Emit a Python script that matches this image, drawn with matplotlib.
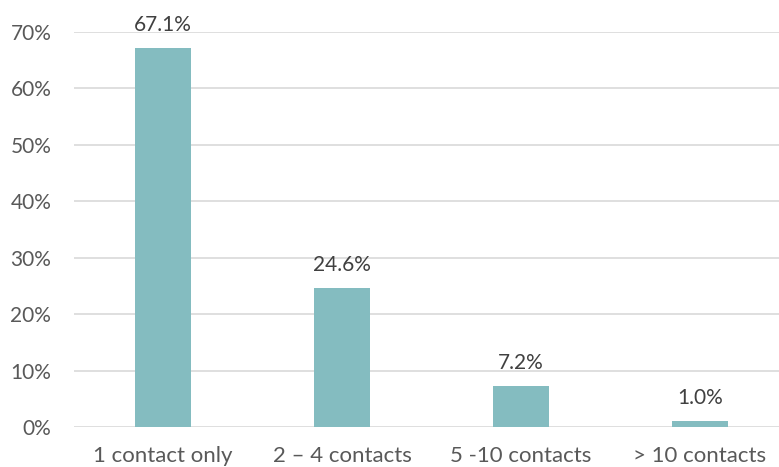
import matplotlib.pyplot as plt
from matplotlib.ticker import PercentFormatter

categories = ['1 contact only', '2 – 4 contacts', '5 -10 contacts', '> 10 contacts']
shares = [67.1, 24.6, 7.2, 1.0]
y_ticks = [0, 10, 20, 30, 40, 50, 60, 70]

plt.rcParams['font.family'] = ['Lato', 'DejaVu Sans']

fig = plt.figure(figsize=(7.79, 4.67), dpi=100)
# plot area runs a bit past the right edge, as in the original
ax = fig.add_axes([0.0944, 0.0857, 0.919, 0.8458])

x = range(len(categories))
ax.bar(x, shares, width=0.31, color='#84BCC0', zorder=3)

for xi, v in zip(x, shares):
    ax.text(xi, v + 2.4, f'{v:.1f}%', ha='center', va='bottom',
            fontsize=15, color='#404040')

ax.set_xlim(-0.5, len(categories) - 0.5)
ax.set_ylim(0, 70)
ax.set_yticks(y_ticks)
ax.yaxis.set_major_formatter(PercentFormatter(decimals=0))
ax.set_xticks(list(x))
ax.set_xticklabels(categories, fontsize=16)
ax.tick_params(axis='both', length=0, colors='#595959')
ax.tick_params(axis='y', labelsize=15, pad=16)
ax.tick_params(axis='x', pad=14)
ax.grid(axis='y', color='#D9D9D9', linewidth=1.2, zorder=0)
ax.set_axisbelow(True)
for s in ax.spines.values():
    s.set_visible(False)

fig.savefig('out.png', dpi=100)
